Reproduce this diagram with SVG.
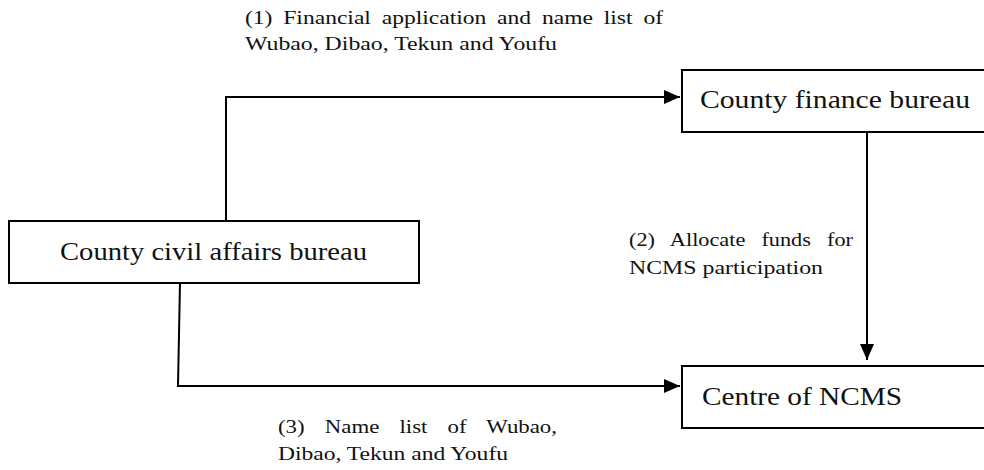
<svg xmlns="http://www.w3.org/2000/svg" width="984" height="470" viewBox="0 0 984 470">
<style>
.box{fill:#fff;stroke:#000;stroke-width:2}
.lbl{font-family:"Liberation Serif","DejaVu Serif",serif;font-size:26px;fill:#111}
.note{font-family:"Liberation Serif","DejaVu Serif",serif;font-size:19px;fill:#111}
.conn{fill:none;stroke:#000;stroke-width:2}
</style>
<defs>
<marker id="arr" markerWidth="8" markerHeight="7" refX="8" refY="3.5" orient="auto" markerUnits="strokeWidth">
<path d="M0,0 L8,3.5 L0,7 Z" fill="#000"/>
</marker>
</defs>
<rect width="984" height="470" fill="#fff"/>
<g id="connectors">
<polyline class="conn" points="226,221 226,97 680,97" marker-end="url(#arr)"/>
<polyline class="conn" points="867,132 867,360" marker-end="url(#arr)"/>
<polyline class="conn" points="180,283 178,386 680,386" marker-end="url(#arr)"/>
</g>
<g id="civil">
<rect class="box" x="9" y="221" width="410" height="62"/>
<text class="lbl" x="60" y="260" textLength="307" lengthAdjust="spacingAndGlyphs">County civil affairs bureau</text>
</g>
<g id="finance">
<rect class="box" x="682" y="70" width="320" height="62"/>
<text class="lbl" x="700" y="108" textLength="270" lengthAdjust="spacingAndGlyphs">County finance bureau</text>
</g>
<g id="ncms">
<rect class="box" x="682" y="366" width="320" height="62"/>
<text class="lbl" x="702" y="405" textLength="200" lengthAdjust="spacingAndGlyphs">Centre of NCMS</text>
</g>
<g id="labels">
<text class="note" x="245" y="24" textLength="418" lengthAdjust="spacingAndGlyphs" word-spacing="4">(1) Financial application and name list of</text>
<text class="note" x="245" y="50" textLength="312" lengthAdjust="spacingAndGlyphs">Wubao, Dibao, Tekun and Youfu</text>
<text class="note" x="629" y="246" textLength="224" lengthAdjust="spacingAndGlyphs" word-spacing="9">(2) Allocate funds for</text>
<text class="note" x="629" y="274" textLength="194" lengthAdjust="spacingAndGlyphs">NCMS participation</text>
<text class="note" x="278" y="433" textLength="279" lengthAdjust="spacingAndGlyphs" word-spacing="12">(3) Name list of Wubao,</text>
<text class="note" x="278" y="460" textLength="230" lengthAdjust="spacingAndGlyphs">Dibao, Tekun and Youfu</text>
</g>
</svg>
